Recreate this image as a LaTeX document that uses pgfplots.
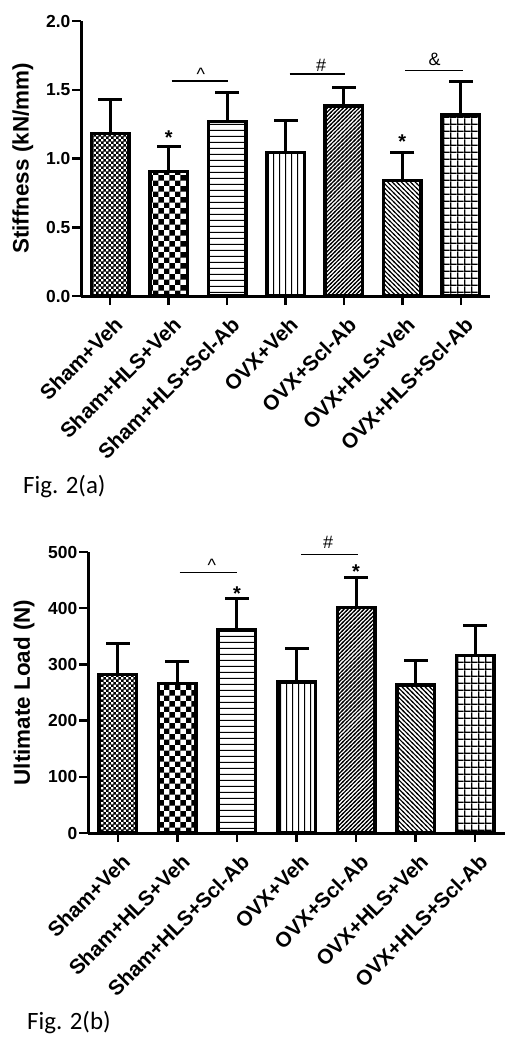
\documentclass[border=0pt]{standalone}
\usepackage{fontspec}
\setmainfont{Liberation Sans}
\newfontfamily\lab{Liberation Sans}
\newfontfamily\figfont{Carlito}
\usepackage{pgfplots}
\pgfplotsset{compat=1.18}
\usetikzlibrary{patterns}

\pgfdeclarepatternformonly{finecheck}{\pgfqpoint{0pt}{0pt}}{\pgfqpoint{5.4pt}{5.4pt}}{\pgfqpoint{5.4pt}{5.4pt}}{%
  \pgfpathrectangle{\pgfqpoint{0pt}{0pt}}{\pgfqpoint{2.9pt}{2.9pt}}%
  \pgfpathrectangle{\pgfqpoint{2.7pt}{2.7pt}}{\pgfqpoint{2.9pt}{2.9pt}}%
  \pgfusepath{fill}}
\pgfdeclarepatternformonly{coarsecheck}{\pgfqpoint{0pt}{0pt}}{\pgfqpoint{11pt}{11pt}}{\pgfqpoint{11pt}{11pt}}{%
  \pgfpathrectangle{\pgfqpoint{0pt}{0pt}}{\pgfqpoint{5.5pt}{5.5pt}}%
  \pgfpathrectangle{\pgfqpoint{5.5pt}{5.5pt}}{\pgfqpoint{5.5pt}{5.5pt}}%
  \pgfusepath{fill}}
\pgfdeclarepatternformonly{hl}{\pgfqpoint{0pt}{0pt}}{\pgfqpoint{5pt}{5.6pt}}{\pgfqpoint{5pt}{5.6pt}}{%
  \pgfpathrectangle{\pgfqpoint{0pt}{0pt}}{\pgfqpoint{5pt}{1.1pt}}%
  \pgfusepath{fill}}
\pgfdeclarepatternformonly{vl}{\pgfqpoint{0pt}{0pt}}{\pgfqpoint{6.4pt}{5pt}}{\pgfqpoint{6.4pt}{5pt}}{%
  \pgfpathrectangle{\pgfqpoint{0pt}{0pt}}{\pgfqpoint{1.1pt}{5pt}}%
  \pgfusepath{fill}}
\pgfdeclarepatternformonly{nel}{\pgfqpoint{-1pt}{-1pt}}{\pgfqpoint{5pt}{5pt}}{\pgfqpoint{4pt}{4pt}}{%
  \pgfsetlinewidth{1.2pt}%
  \pgfpathmoveto{\pgfqpoint{-1pt}{-1pt}}\pgfpathlineto{\pgfqpoint{5pt}{5pt}}%
  \pgfusepath{stroke}}
\pgfdeclarepatternformonly{nwl}{\pgfqpoint{-1pt}{-1pt}}{\pgfqpoint{5.6pt}{5.6pt}}{\pgfqpoint{4.6pt}{4.6pt}}{%
  \pgfsetlinewidth{1.1pt}%
  \pgfpathmoveto{\pgfqpoint{-1pt}{5.6pt}}\pgfpathlineto{\pgfqpoint{5.6pt}{-1pt}}%
  \pgfusepath{stroke}}
\pgfdeclarepatternformonly{gridp}{\pgfqpoint{0pt}{0pt}}{\pgfqpoint{7.3pt}{7.3pt}}{\pgfqpoint{7.3pt}{7.3pt}}{%
  \pgfpathrectangle{\pgfqpoint{0pt}{0pt}}{\pgfqpoint{7.3pt}{1.6pt}}%
  \pgfpathrectangle{\pgfqpoint{0pt}{0pt}}{\pgfqpoint{1.6pt}{7.3pt}}%
  \pgfusepath{fill}}

\tikzset{
  ann/.style={font=\lab\fontsize{18}{20}\selectfont, anchor=base, inner sep=0pt},
  star/.style={font=\lab\bfseries\fontsize{20}{20}\selectfont, anchor=base, inner sep=0pt},
}
\pgfplotsset{
  mybar/.style={ybar, bar width=37.5bp, bar shift=0pt, draw=black, line width=3.5bp,
    /pgfplots/error bars/y dir=plus, /pgfplots/error bars/y explicit,
    /pgfplots/error bars/error bar style={line width=3bp, black},
    /pgfplots/error bars/error mark=none},
  caps/.style={only marks, mark=-, mark size=12bp, black, mark options={line width=3bp}},
  myaxis/.style={
    scale only axis, xmin=-0.5, xmax=6.5, ymin=0,
    axis lines=left, axis line style={-, line width=3bp},
    xtick={0,1,2,3,4,5,6},
    xticklabels={Sham+Veh, Sham+HLS+Veh, Sham+HLS+Scl-Ab, OVX+Veh, OVX+Scl-Ab, OVX+HLS+Veh, OVX+HLS+Scl-Ab},
    tick align=outside, major tick length=9bp,
    tick style={line width=2.5bp, black},
    clip=false,
    /pgf/number format/assume math mode=true,
    yticklabel style={font=\lab\bfseries\fontsize{17.5}{19}\selectfont, inner sep=1.5bp},
    xticklabel style={xshift=3bp, yshift=-9bp, rotate=45, anchor=north east, font=\lab\bfseries\fontsize{21}{23}\selectfont, inner sep=1bp},
    ylabel style={font=\lab\bfseries\fontsize{22.5}{24}\selectfont, anchor=center},
  },
}

\begin{document}
\begin{tikzpicture}[x=1bp,y=1bp]
\useasboundingbox (0,0) rectangle (530,-1041);

\begin{axis}[myaxis, at={(81bp,-296bp)}, anchor=south west,
  width=409bp, height=275bp, ymax=2,
  ytick={0,0.5,1,1.5,2},
  yticklabel style={/pgf/number format/fixed, /pgf/number format/fixed zerofill, /pgf/number format/precision=1},
  ylabel={Stiffness (kN/mm)},
  ylabel style={at={(axis description cs:-0.142,0.5)}}]
\addplot[mybar, pattern=finecheck] coordinates {(0,1.183) +- (0,0.247)};
\addplot[mybar, pattern=coarsecheck] coordinates {(1,0.904) +- (0,0.186)};
\addplot[mybar, pattern=hl] coordinates {(2,1.268) +- (0,0.212)};
\addplot[mybar, pattern=vl] coordinates {(3,1.045) +- (0,0.235)};
\addplot[mybar, pattern=nel] coordinates {(4,1.382) +- (0,0.133)};
\addplot[mybar, pattern=nwl] coordinates {(5,0.840) +- (0,0.207)};
\addplot[mybar, pattern=gridp] coordinates {(6,1.316) +- (0,0.244)};
\addplot[caps] coordinates {(0,1.430) (1,1.090) (2,1.480) (3,1.280) (4,1.515) (5,1.047) (6,1.560)};
\draw[line width=1.5bp] (axis cs:1.05,1.563) -- (axis cs:2.02,1.563);
\draw[line width=1.5bp] (axis cs:3.07,1.615) -- (axis cs:4.02,1.615);
\draw[line width=1.5bp] (axis cs:5.05,1.641) -- (axis cs:6.03,1.641);
\node[ann] at (axis cs:1.55,1.565) {\textasciicircum};
\node[ann] at (axis cs:3.61,1.636) {\#};
\node[ann] at (axis cs:5.55,1.673) {\&};
\node[star] at (axis cs:1,1.105) {*};
\node[star] at (axis cs:5,1.076) {*};
\end{axis}

\begin{axis}[myaxis, at={(88bp,-833bp)}, anchor=south west,
  width=417bp, height=281bp, ymax=500,
  ytick={0,100,200,300,400,500},
  ylabel={Ultimate Load (N)},
  ylabel style={at={(axis description cs:-0.153,0.5)}}]
\addplot[mybar, pattern=finecheck] coordinates {(0,282) +- (0,56)};
\addplot[mybar, pattern=coarsecheck] coordinates {(1,266) +- (0,39)};
\addplot[mybar, pattern=hl] coordinates {(2,361.5) +- (0,56.5)};
\addplot[mybar, pattern=vl] coordinates {(3,269) +- (0,60)};
\addplot[mybar, pattern=nel] coordinates {(4,401) +- (0,54)};
\addplot[mybar, pattern=nwl] coordinates {(5,263) +- (0,44)};
\addplot[mybar, pattern=gridp] coordinates {(6,316) +- (0,53)};
\addplot[caps] coordinates {(0,338) (1,305) (2,418) (3,329) (4,455) (5,307) (6,369)};
\draw[line width=1.5bp] (axis cs:1.04,464) -- (axis cs:2.0,464);
\draw[line width=1.5bp] (axis cs:3.08,496) -- (axis cs:4.04,496);
\node[ann] at (axis cs:1.58,465) {\textasciicircum};
\node[ann] at (axis cs:3.53,507) {\#};
\node[star] at (axis cs:2,414) {*};
\node[star] at (axis cs:4,452) {*};
\end{axis}

\node[anchor=base west, inner sep=0pt, font=\figfont\fontsize{25}{28}\selectfont] at (23,-493) {Fig. 2(a)};
\node[anchor=base west, inner sep=0pt, font=\figfont\fontsize{25}{28}\selectfont] at (27,-1029) {Fig. 2(b)};
\end{tikzpicture}
\end{document}
